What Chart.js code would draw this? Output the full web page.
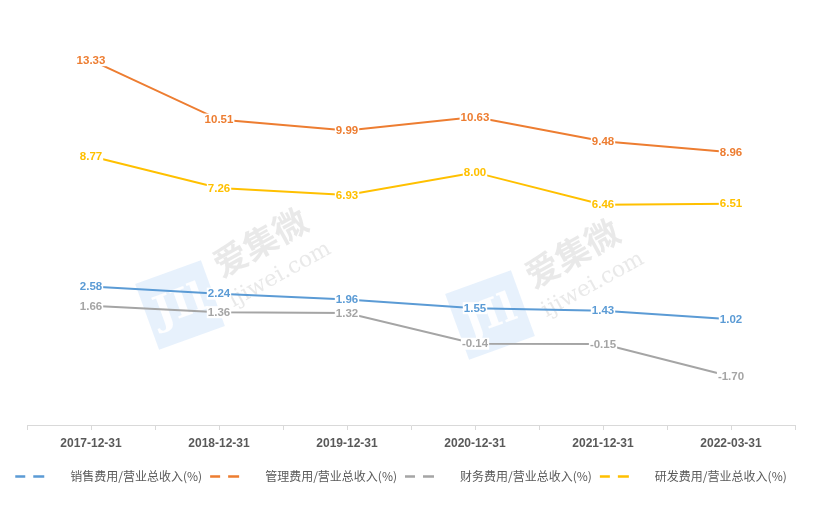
<!DOCTYPE html>
<html><head><meta charset="utf-8">
<script src="https://cdn.jsdelivr.net/npm/chart.js@4.4.1/dist/chart.umd.min.js"></script>
<style>html,body{margin:0;padding:0;background:#fff;}canvas{display:block;}</style>
</head><body>
<canvas id="c" width="831" height="528"></canvas>
<script>
const categories = ['2017-12-31','2018-12-31','2019-12-31','2020-12-31','2021-12-31','2022-03-31'];
const sellingRatio = [2.58, 2.24, 1.96, 1.55, 1.43, 1.02];
const adminRatio = [13.33, 10.51, 9.99, 10.63, 9.48, 8.96];
const financeRatio = [1.66, 1.36, 1.32, -0.14, -0.15, -1.70];
const rdRatio = [8.77, 7.26, 6.93, 8.00, 6.46, 6.51];
const seriesNames = ['销售费用/营业总收入(%)', '管理费用/营业总收入(%)', '财务费用/营业总收入(%)', '研发费用/营业总收入(%)'];
const seriesColors = ['#5B9BD5', '#ED7D31', '#A5A5A5', '#FFC000'];
const yMin = -4, yMax = 16;

const seriesData = [sellingRatio, adminRatio, financeRatio, rdRatio];

const watermarkPlugin = {
  id: 'watermark',
  beforeDatasetsDraw(chart) {
    const ctx = chart.ctx;
    const marks = [[180, 305, 260, 242, 280, 275], [490, 315, 572, 253, 593, 285]];
    const ang = -29 * Math.PI / 180;
    marks.forEach(m => {
      ctx.save();
      ctx.translate(m[0], m[1]);
      ctx.rotate(-20 * Math.PI / 180);
      ctx.fillStyle = 'rgba(215,231,250,0.6)';
      ctx.fillRect(-35, -35, 70, 70);
      ctx.fillStyle = 'rgba(255,255,255,0.95)';
      ctx.font = 'bold 40px "DejaVu Serif"';
      ctx.textAlign = 'center';
      ctx.textBaseline = 'middle';
      ctx.fillText('JIl', 0, 2);
      ctx.restore();

      ctx.save();
      ctx.translate(m[2], m[3]);
      ctx.rotate(ang);
      ctx.fillStyle = 'rgba(200,200,200,0.4)';
      ctx.font = 'bold 34px "Noto Sans CJK SC"';
      ctx.textAlign = 'center';
      ctx.textBaseline = 'middle';
      ctx.fillText('爱集微', 0, 0);
      ctx.restore();

      ctx.save();
      ctx.translate(m[4], m[5]);
      ctx.rotate(ang);
      ctx.fillStyle = 'rgba(200,200,200,0.4)';
      ctx.font = '22px "DejaVu Serif"';
      ctx.textAlign = 'center';
      ctx.textBaseline = 'middle';
      ctx.fillText('ijiwei.com', 0, 0);
      ctx.restore();
    });
  }
};

const labelPlugin = {
  id: 'valueLabels',
  afterDatasetsDraw(chart) {
    const ctx = chart.ctx;
    ctx.save();
    ctx.font = 'bold 11.5px "Liberation Sans"';
    ctx.textAlign = 'center';
    ctx.textBaseline = 'middle';
    chart.data.datasets.forEach((ds, di) => {
      const meta = chart.getDatasetMeta(di);
      meta.data.forEach((pt, i) => {
        const txt = ds.data[i].toFixed(2);
        const w = ctx.measureText(txt).width;
        ctx.fillStyle = '#ffffff';
        ctx.fillRect(pt.x - w / 2 - 1, pt.y - 6, w + 2, 12);
        ctx.fillStyle = ds.borderColor;
        ctx.fillText(txt, pt.x, pt.y + 0.5);
      });
    });
    ctx.restore();
  }
};

const centerTickPlugin = {
  id: 'centerTicks',
  afterDraw(chart) {
    const xs = chart.scales.x;
    const ctx = chart.ctx;
    ctx.save();
    ctx.strokeStyle = '#d9d9d9';
    ctx.lineWidth = 1;
    categories.forEach((c, i) => {
      const x = Math.round(xs.getPixelForValue(i)) + 0.5;
      ctx.beginPath();
      ctx.moveTo(x, xs.top);
      ctx.lineTo(x, xs.top + 5);
      ctx.stroke();
    });
    ctx.restore();
  }
};

new Chart(document.getElementById('c'), {
  type: 'line',
  data: {
    labels: categories,
    datasets: seriesData.map((d, i) => ({
      label: seriesNames[i],
      data: d,
      borderColor: seriesColors[i],
      backgroundColor: seriesColors[i],
      borderWidth: 2,
      pointRadius: 0,
      pointHoverRadius: 0,
      tension: 0,
      fill: false
    }))
  },
  options: {
    responsive: false,
    animation: false,
    events: [],
    layout: { padding: { top: 4, right: 29, bottom: 35.5, left: 0 } },
    scales: {
      x: {
        offset: true,
        grid: { offset: true, drawOnChartArea: false, drawTicks: true, tickLength: 5, color: '#d9d9d9' },
        border: { color: '#d9d9d9', width: 1 },
        ticks: { color: '#595959', padding: 6, maxRotation: 0, font: { family: '"Liberation Sans"', size: 12, weight: 'bold' } },
        afterFit: s => { s.height = 37.5; }
      },
      y: {
        min: yMin, max: yMax,
        position: 'left',
        grid: { display: false },
        border: { display: false },
        ticks: { display: false },
        afterFit: s => { s.width = 27; }
      },
      y2: {
        min: yMin, max: yMax,
        position: 'right',
        grid: { display: false },
        border: { display: false },
        ticks: { display: false },
        afterFit: s => { s.width = 7; }
      }
    },
    plugins: {
      tooltip: { enabled: false },
      legend: {
        position: 'bottom',
        align: 'center',
        labels: {
          usePointStyle: true,
          pointStyleWidth: 49,
          padding: 8,
          color: '#595959',
          font: { family: '"Noto Sans CJK SC"', size: 12 },
          generateLabels: chart => chart.data.datasets.map((ds, i) => ({
            text: ds.label,
            fillStyle: 'rgba(0,0,0,0)',
            strokeStyle: ds.borderColor,
            lineWidth: 2.5,
            lineDash: [10, 8, 11, 100],
            pointStyle: 'line',
            hidden: false,
            datasetIndex: i,
            fontColor: '#595959'
          }))
        }
      }
    }
  },
  plugins: [watermarkPlugin, labelPlugin, centerTickPlugin]
});
</script>
</body></html>
